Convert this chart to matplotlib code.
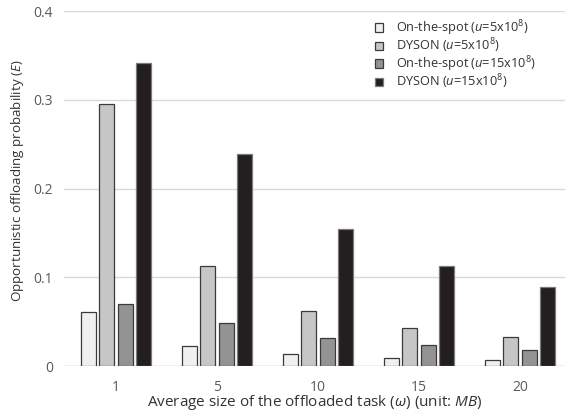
import matplotlib
matplotlib.use("Agg")
import matplotlib.pyplot as plt
import numpy as np

categories = ["1", "5", "10", "15", "20"]
series_names = [
    r"On-the-spot ($\mathit{u}$=5x10$^{8}$)",
    r"DYSON ($\mathit{u}$=5x10$^{8}$)",
    r"On-the-spot ($\mathit{u}$=15x10$^{8}$)",
    r"DYSON ($\mathit{u}$=15x10$^{8}$)",
]
onspot_5 = [0.0605, 0.023, 0.013, 0.009, 0.007]
dyson_5 = [0.2955, 0.113, 0.062, 0.0425, 0.0325]
onspot_15 = [0.070, 0.049, 0.0316, 0.0233, 0.0184]
dyson_15 = [0.342, 0.239, 0.154, 0.113, 0.089]
yticks = [0, 0.1, 0.2, 0.3, 0.4]
ytick_labels = ["0", "0.1", "0.2", "0.3", "0.4"]

plt.rcParams['font.family'] = ['Open Sans', 'DejaVu Sans']
plt.rcParams['mathtext.fontset'] = 'custom'
plt.rcParams['mathtext.rm'] = 'Open Sans'
plt.rcParams['mathtext.it'] = 'Open Sans:italic'
plt.rcParams['mathtext.bf'] = 'Open Sans:bold'

fig = plt.figure(figsize=(5.65, 4.16), dpi=100)
ax = fig.add_axes([64/565, 50/416, 1 - 64/565, (366 - 11.3)/416])

colors = ["#f0f0f0", "#c6c6c6", "#939393", "#231f20"]
edges = ["#3a3a3a", "#3a3a3a", "#3a3a3a", "#7a7a7a"]
series = [onspot_5, dyson_5, onspot_15, dyson_15]
x = np.arange(len(categories))
pitch = 0.182
width = 0.148
for i, (vals, c, ec, name) in enumerate(zip(series, colors, edges, series_names)):
    ax.bar(x + (i - 1.5) * pitch, vals, width=width, color=c, edgecolor=ec,
           linewidth=0.9, label=name, zorder=3)

ax.set_xlim(-0.515, 4.445)
ax.set_ylim(0, 0.4)
ax.set_yticks(yticks)
ax.set_yticklabels(ytick_labels)
ax.set_xticks(x)
ax.set_xticklabels(categories)
ax.yaxis.grid(True, color="#d9d9d9", linewidth=1.0, zorder=0)
ax.set_axisbelow(True)
for s in ax.spines.values():
    s.set_visible(False)
ax.tick_params(axis='both', length=0, labelsize=10, colors="#595959", pad=8)
ax.tick_params(axis='x', pad=10)
ax.axhline(0, color="#d0d0d0", linewidth=1.0, zorder=2)

ax.set_xlabel(r"Average size of the offloaded task ($\mathit{ω}$) (unit: $\mathit{MB}$)",
              fontsize=11, color="#333333")
ax.xaxis.set_label_coords(0.5, -37/354.7, transform=ax.transAxes)
ax.xaxis.label.set_va('center')
ax.set_ylabel(r"Opportunistic offloading probability ($\mathit{E}$)",
              fontsize=9.6, color="#333333")
ax.yaxis.set_label_coords(-(64 - 18)/501, (366 - 181)/354.7)
ax.yaxis.label.set_va('center')

leg = ax.legend(loc="upper left", bbox_to_anchor=(375/565, (416 - 18)/416),
                bbox_transform=fig.transFigure, frameon=False,
                fontsize=9.2, handlelength=0.66, handleheight=0.66,
                handletextpad=0.95, labelspacing=-0.08, borderpad=0,
                borderaxespad=0)
for t in leg.get_texts():
    t.set_color("#333333")

fig.savefig("out.png", dpi=100)
